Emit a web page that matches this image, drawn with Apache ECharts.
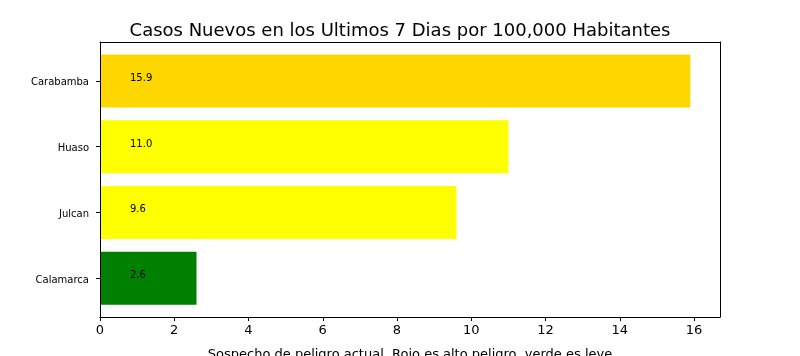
<!DOCTYPE html>
<html><head><meta charset="utf-8">
<script src="https://cdn.jsdelivr.net/npm/echarts@6/dist/echarts.min.js"></script>
<style>html,body{margin:0;padding:0;background:#fff}#c{width:800px;height:356px}</style>
</head><body><div id="c"></div>
<script>
const categories = ['Calamarca', 'Julcan', 'Huaso', 'Carabamba'];
const values = [2.6, 9.6, 11.0, 15.9];
const barColors = ['#008000', '#FFFF00', '#FFFF00', '#FFD700'];
const xTicksMax = 16.7;
const titleText = 'Casos Nuevos en los Ultimos 7 Dias por 100,000 Habitantes';
const xName = 'Sospecho de peligro actual. Rojo es alto peligro, verde es leve';

const F = 'DejaVu Sans';
const chart = echarts.init(document.getElementById('c'), null, {renderer: 'canvas'});
const lineStyle = {color: '#000', width: 1};
chart.setOption({
  animation: false,
  title: {text: titleText, left: 'center', top: 17, textStyle: {fontFamily: F, fontSize: 18, fontWeight: 'normal', color: '#000'}},
  grid: [
    {left: 100, right: 80, top: 48, bottom: 45, outerBoundsMode: 'none', containLabel: false},
    {left: 100, right: 80, top: 42, bottom: 39, outerBoundsMode: 'none', containLabel: false}
  ],
  xAxis: [
    {gridIndex: 0, type: 'value', min: 0, max: xTicksMax, show: false},
    {gridIndex: 1, type: 'value', min: 0, max: xTicksMax, interval: 2, position: 'bottom', z: 5,
     axisLine: {show: true, onZero: false, lineStyle}, axisTick: {show: true, length: 4, lineStyle},
     axisLabel: {fontFamily: F, fontSize: 13, color: '#000', margin: 7, showMaxLabel: false},
     splitLine: {show: false},
     name: xName, nameLocation: 'middle', nameGap: 31, nameTextStyle: {fontFamily: F, fontSize: 13, color: '#000'}},
    {gridIndex: 1, type: 'value', min: 0, max: 1, position: 'top', z: 5,
     axisLine: {show: true, onZero: false, lineStyle}, axisTick: {show: false}, axisLabel: {show: false}, splitLine: {show: false}}
  ],
  yAxis: [
    {gridIndex: 0, type: 'category', data: categories,
     axisLine: {show: false}, axisTick: {show: true, alignWithLabel: true, length: 4, lineStyle},
     axisLabel: {fontFamily: F, fontSize: 10, color: '#000', margin: 11, verticalAlign: 'top', lineHeight: 4}},
    {gridIndex: 1, type: 'value', min: 0, max: 1, position: 'left', z: 5,
     axisLine: {show: true, onZero: false, lineStyle}, axisTick: {show: false}, axisLabel: {show: false}, splitLine: {show: false}},
    {gridIndex: 1, type: 'value', min: 0, max: 1, position: 'right', z: 5,
     axisLine: {show: true, onZero: false, lineStyle}, axisTick: {show: false}, axisLabel: {show: false}, splitLine: {show: false}}
  ],
  series: [{
    type: 'bar', xAxisIndex: 0, yAxisIndex: 0, barWidth: 53,
    data: values.map((v, i) => ({value: v, itemStyle: {color: barColors[i]}})),
    label: {show: true, position: [30, 24], align: 'left', verticalAlign: 'middle',
      fontFamily: F, fontSize: 10, color: '#000', formatter: p => p.value.toFixed(1)}
  }]
});
</script></body></html>
